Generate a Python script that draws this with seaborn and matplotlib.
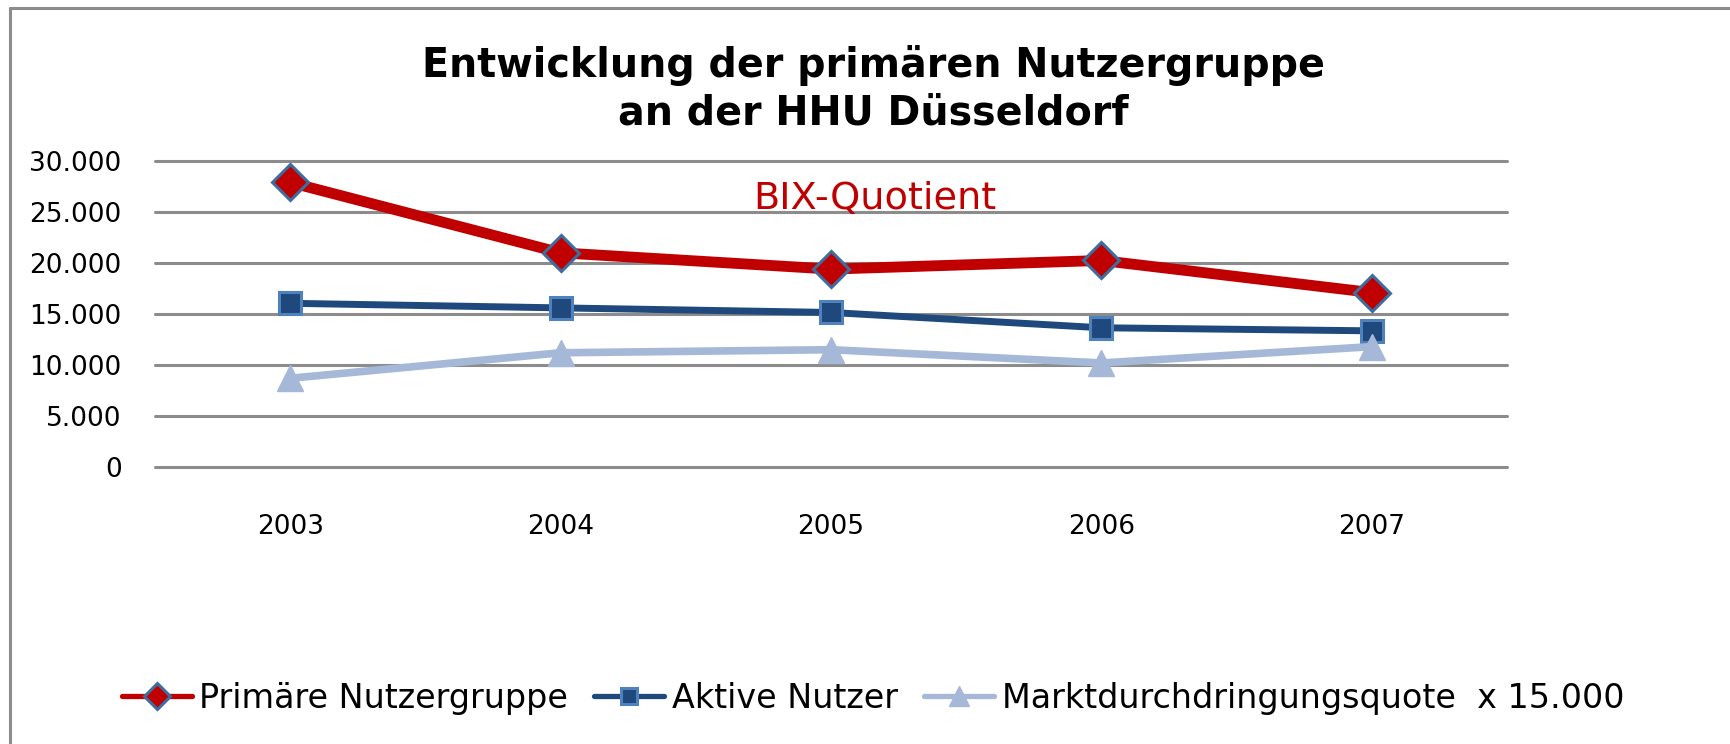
import matplotlib
matplotlib.use("Agg")
import matplotlib.pyplot as plt
import seaborn as sns
import pandas as pd
from matplotlib.lines import Line2D

# data
years = ["2003", "2004", "2005", "2006", "2007"]
primaere_nutzer = [27900, 21000, 19400, 20250, 17100]
aktive_nutzer = [16050, 15600, 15150, 13650, 13350]
marktdurchdringung = [8700, 11200, 11500, 10200, 11800]
y_ticks = [0, 5000, 10000, 15000, 20000, 25000, 30000]

title = "Entwicklung der primären Nutzergruppe\nan der HHU Düsseldorf"
series_labels = ["Primäre Nutzergruppe", "Aktive Nutzer", "Marktdurchdringungsquote  x 15.000"]

sns.set_style("white")
plt.rcParams["font.family"] = ["DejaVu Sans"]
plt.rcParams["text.color"] = "black"
plt.rcParams["xtick.color"] = "black"
plt.rcParams["ytick.color"] = "black"

fig = plt.figure(figsize=(17.3, 7.44), dpi=100)
ax = fig.add_axes([0.0896, 0.3723, 0.7815, 0.4113])

df = pd.DataFrame({"year": years, "p": primaere_nutzer, "a": aktive_nutzer, "m": marktdurchdringung})

sns.lineplot(data=df, x="year", y="p", ax=ax, color="#C00000", lw=7.8,
             marker="D", markersize=18, markerfacecolor="#C00000",
             markeredgecolor="#3F6C9F", markeredgewidth=2.2, label=series_labels[0], zorder=4)
sns.lineplot(data=df, x="year", y="a", ax=ax, color="#1F497D", lw=5,
             marker="s", markersize=16, markerfacecolor="#1F497D",
             markeredgecolor="#4F81BD", markeredgewidth=2.2, label=series_labels[1], zorder=5)
sns.lineplot(data=df, x="year", y="m", ax=ax, color="#A6B8D8", lw=5.5,
             marker="^", markersize=19, markerfacecolor="#A6B8D8",
             markeredgecolor="#A6B8D8", markeredgewidth=1, label=series_labels[2], zorder=6)

ax.set_xlim(-0.5, 4.5)
ax.set_ylim(0, 30000)
ax.set_yticks(y_ticks)
ax.set_yticklabels([f"{v:,}".replace(",", ".") for v in y_ticks])
for v in y_ticks:
    ax.axhline(v, color="#8C8C8C", lw=2.2, zorder=1, clip_on=False)
for s in ax.spines.values():
    s.set_visible(False)
ax.tick_params(axis="y", length=0, pad=24, labelsize=19)
ax.tick_params(axis="x", length=0, pad=34, labelsize=19)
ax.set_xlabel("")
ax.set_ylabel("")
ax.legend_.remove()

ax.text(0.5325, 0.877, "BIX-Quotient", transform=ax.transAxes, ha="center", va="center",
        color="#C00000", fontsize=27.5)

fig.text(0.5046, 0.88, title, ha="center", va="center", fontsize=28.5,
         fontweight="bold", linespacing=1.25)

handles, _ = ax.get_legend_handles_labels()
leg = fig.legend(handles, series_labels, loc="center", bbox_to_anchor=(0.5046, 0.061),
                 ncol=3, frameon=False, fontsize=24, handlelength=2.1,
                 handletextpad=0.22, columnspacing=0.8, markerscale=0.75)
for line in leg.get_lines():
    line.set_linewidth(3.8)

# chart frame (top and left border)
fig.add_artist(Line2D([10 / 1730, 1.0], [1 - 8 / 744, 1 - 8 / 744], color="#8C8C8C", lw=2.2))
fig.add_artist(Line2D([10 / 1730, 10 / 1730], [0.0, 1 - 8 / 744], color="#8C8C8C", lw=2.2))

fig.savefig("out.png", dpi=100)
